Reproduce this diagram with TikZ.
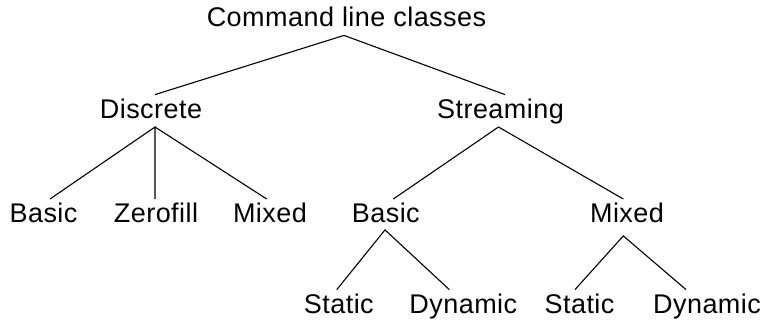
\documentclass[tikz,border=0pt]{standalone}
\usepackage{fontspec}
\setmainfont[LetterSpace=1.7]{Liberation Sans}
\begin{document}
\begin{tikzpicture}[x=1pt,y=-1pt,
  lbl/.style={anchor=base,font=\fontsize{27}{32}\selectfont,
    text height=21pt,text depth=6pt,inner xsep=0pt,inner ysep=2.5pt},
  branch/.style={line width=1.1pt,black}]
\useasboundingbox (0,0) rectangle (763,321);
% level 0
\node[lbl] (root) at (346.5,26.7) {Command line classes};
% level 1
\node[lbl] (disc) at (151,118.3) {Discrete};
\node[lbl] (strm) at (500.5,118.3) {Streaming};
% level 2
\node[lbl] (dbas) at (43.5,222.7) {Basic};
\node[lbl] (dzer) at (156,222.7) {Zerofill};
\node[lbl] (dmix) at (270,222.7) {Mixed};
\node[lbl] (sbas) at (385.8,222.7) {Basic};
\node[lbl] (smix) at (627,222.7) {Mixed};
% level 3
\node[lbl] (bsta) at (338.8,313.3) {Static};
\node[lbl] (bdyn) at (463.3,313.3) {Dynamic};
\node[lbl] (msta) at (579.5,313.3) {Static};
\node[lbl] (mdyn) at (707,313.3) {Dynamic};
% branches
\draw[branch] ([xshift=4pt]disc.north) -- ([xshift=-2.5pt]root.south) -- ([xshift=4.5pt]strm.north);
\draw[branch] ([xshift=6.5pt]dbas.north) -- ([xshift=4pt]disc.south) -- ([xshift=-1pt]dzer.north);
\draw[branch] ([xshift=4pt]disc.south) -- ([xshift=-3.3pt]dmix.north);
\draw[branch] ([xshift=7.5pt]sbas.north) -- ([xshift=-2pt]strm.south) -- ([xshift=-3.7pt]smix.north);
\draw[branch] ([xshift=-2pt]bsta.north) -- ([xshift=-0.8pt,yshift=1.5pt]sbas.south) -- ([xshift=-14pt]bdyn.north);
\draw[branch] ([xshift=-4.5pt]msta.north) -- ([xshift=-3.7pt,yshift=-4.5pt]smix.south) -- ([xshift=-21pt]mdyn.north);
\end{tikzpicture}
\end{document}
